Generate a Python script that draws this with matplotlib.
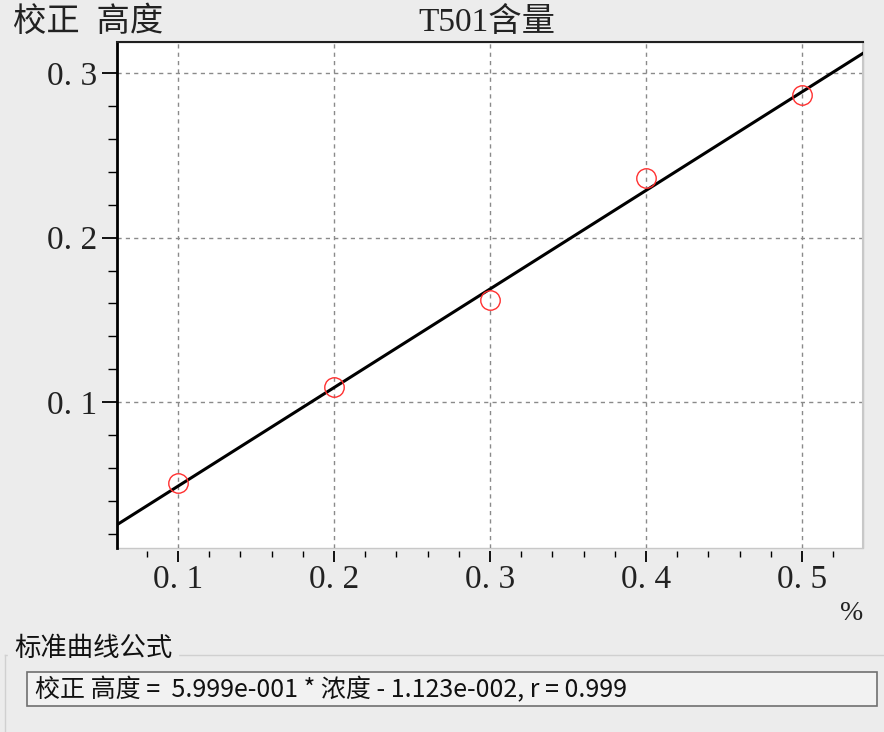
import numpy as np
import matplotlib.pyplot as plt
from matplotlib.ticker import MultipleLocator
from matplotlib.patches import Rectangle
from matplotlib.lines import Line2D

# data
conc = [0.1, 0.2, 0.3, 0.4, 0.5]
height = [0.051, 0.109, 0.162, 0.236, 0.287]
slope = 0.5999
intercept = -0.01123
x_ticks = [0.1, 0.2, 0.3, 0.4, 0.5]
x_labels = ["0. 1", "0. 2", "0. 3", "0. 4", "0. 5"]
y_ticks = [0.1, 0.2, 0.3]
y_labels = ["0. 1", "0. 2", "0. 3"]
xlim = (0.061, 0.539)
ylim = (0.0112, 0.319)

title = "T501含量"
ylabel = "校正  高度"
unit = "%"
group_title = "标准曲线公式"
formula = "校正 高度 =  5.999e-001 * 浓度 - 1.123e-002, r = 0.999"

serif = ["Liberation Serif", "Noto Sans CJK SC"]
sans = ["Noto Sans CJK SC", "DejaVu Sans"]
bg = "#ececec"

fig = plt.figure(figsize=(8.84, 7.32), dpi=100, facecolor=bg)
ax = fig.add_axes([117 / 884, 184 / 732, 746 / 884, 506 / 732])
ax.set_facecolor("white")

# spines first (set_position resets the ticks)
ax.spines["left"].set_linewidth(2.0)
ax.spines["left"].set_color("black")
ax.spines["top"].set_linewidth(1.5)
ax.spines["top"].set_color("#202020")
ax.spines["right"].set_color("#c8c8c8")
ax.spines["right"].set_linewidth(1.5)
ax.spines["bottom"].set_position(("outward", 2))
ax.spines["bottom"].set_visible(False)
ax.add_patch(Rectangle((0, 0), 1, 1, transform=ax.transAxes, fill=False,
                       ec="#c8c8c8", lw=1.0, zorder=0.5, clip_on=False))

# fitted line across the whole axis
xs = np.array(xlim)
ax.plot(xs, slope * xs + intercept, color="black", lw=2.2, zorder=3)
ax.plot(conc, height, "o", mfc="none", mec="#ff3030", ms=14, mew=1.0, zorder=4)

ax.set_xlim(xlim)
ax.set_ylim(ylim)
tick_font = dict(family=serif, fontsize=24, color="#222222")
ax.set_xticks(x_ticks, x_labels, **tick_font)
ax.set_yticks(y_ticks, y_labels, **tick_font)
ax.xaxis.set_minor_locator(MultipleLocator(0.02))
ax.yaxis.set_minor_locator(MultipleLocator(0.02))
ax.grid(True, which="major", color="#8a8a8a", ls=(0, (3, 3)), lw=1.0)

ax.tick_params(axis="x", which="major", direction="out", length=8, width=1.3, color="black", pad=2)
ax.tick_params(axis="x", which="minor", direction="out", length=4.5, width=1.0, color="black")
ax.tick_params(axis="y", which="major", direction="out", length=11, width=1.3, color="black", pad=3)
ax.tick_params(axis="y", which="minor", direction="out", length=6.5, width=1.0, color="black")

fig.text(418 / 884, 1 - 22 / 732, title, family=serif, fontsize=24,
         ha="left", va="center", color="#222222")
fig.text(13 / 884, 1 - 22 / 732, ylabel, family=serif, fontsize=24,
         ha="left", va="center", color="#222222")
fig.text(852 / 884, 1 - 613 / 732, unit, family=serif, fontsize=20,
         ha="center", va="center", color="#222222")

# formula group box
fig.add_artist(Line2D([5 / 884, 1.0], [1 - 655 / 732] * 2, color="#d0d0d0", lw=1.0))
fig.add_artist(Line2D([5 / 884] * 2, [0, 1 - 655 / 732], color="#d0d0d0", lw=1.0))
fig.text(14 / 884, 1 - 648 / 732, group_title, family=sans, fontsize=19,
         ha="left", va="center", color="#111111", backgroundcolor=bg)
fig.add_artist(Rectangle((27 / 884, 1 - 706 / 732), 850 / 884, 34 / 732,
                         transform=fig.transFigure, fc="#f2f2f2", ec="#707070", lw=1.2))
fig.text(35 / 884, 1 - 690 / 732, formula, family=sans, fontsize=18,
         ha="left", va="center", color="#111111")

fig.savefig("out.png", dpi=100, facecolor=bg)
